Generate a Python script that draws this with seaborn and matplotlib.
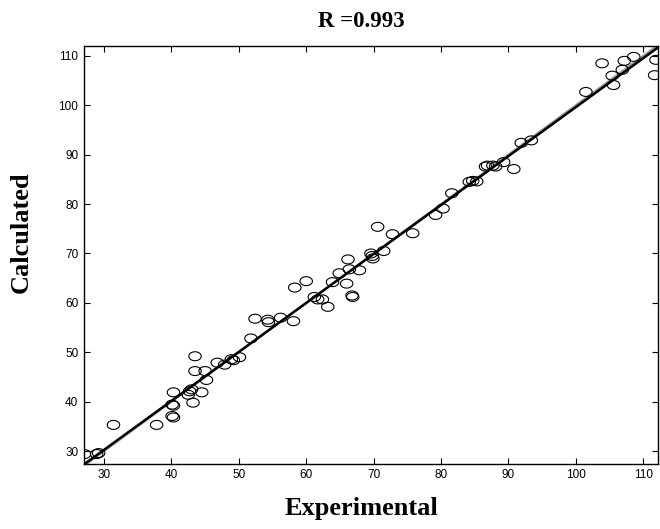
import numpy as np
import pandas as pd
import matplotlib
matplotlib.use("Agg")
import matplotlib.pyplot as plt
from matplotlib.path import Path
import seaborn as sns

experimental = [27.1, 28.9, 29.2, 31.4, 37.8, 40.1, 40.3, 40.3, 40.1, 40.3,
                43.2, 42.5, 42.7, 43.0, 44.5, 45.2, 43.5, 45.0, 43.5, 46.8,
                47.9, 48.9, 49.2, 50.1, 51.8, 52.4, 54.3, 54.4, 56.2, 58.1,
                58.3, 60.0, 61.2, 61.7, 62.4, 63.2, 63.9, 64.9, 66.2, 66.0,
                66.4, 66.8, 66.9, 67.9, 69.6, 69.8, 69.9, 71.5, 70.6, 72.8,
                75.8, 79.2, 80.3, 81.6, 84.2, 84.7, 85.3, 86.6, 86.9, 87.7,
                88.1, 89.3, 90.8, 91.9, 93.4, 101.5, 103.9, 105.4, 105.6, 106.9,
                107.2, 108.6, 111.7, 111.9]
calculated = [29.4, 29.4, 29.6, 35.3, 35.3, 37.1, 36.8, 39.2, 39.4, 41.9,
              39.8, 41.4, 42.1, 42.5, 41.9, 44.4, 46.2, 46.2, 49.2, 47.9,
              47.5, 48.6, 48.4, 49.0, 52.8, 56.8, 56.6, 56.1, 57.0, 56.3,
              63.1, 64.4, 61.2, 60.7, 60.7, 59.2, 64.2, 66.0, 68.8, 63.9,
              66.8, 61.5, 61.2, 66.6, 70.0, 69.5, 69.0, 70.5, 75.4, 73.9,
              74.1, 77.8, 79.1, 82.2, 84.5, 84.7, 84.6, 87.6, 87.8, 87.8,
              87.6, 88.5, 87.1, 92.4, 92.9, 102.7, 108.5, 106.0, 104.1, 107.2,
              109.0, 109.8, 106.1, 109.2]
x_ticks = [30, 40, 50, 60, 70, 80, 90, 100, 110]
y_ticks = [30, 40, 50, 60, 70, 80, 90, 100, 110]
r_value = "0.993"

df = pd.DataFrame({"Experimental": experimental, "Calculated": calculated})

sns.set_style("ticks")
plt.rcParams["font.family"] = ["Liberation Sans", "DejaVu Sans"]
plt.rcParams["text.color"] = "black"
plt.rcParams["axes.labelcolor"] = "black"
plt.rcParams["xtick.color"] = "black"
plt.rcParams["ytick.color"] = "black"

fig = plt.figure(figsize=(6.6, 5.29), dpi=100)
ax = fig.add_axes([0.127, 0.123, 0.870, 0.790])
ax.set_xlim(27.0, 112.2)
ax.set_ylim(27.4, 112.0)

# identity line (gray) and fitted line (black)
ax.axline((50, 50), slope=1, color="#9a9a9a", lw=1.6, zorder=2)
sns.regplot(data=df, x="Experimental", y="Calculated", scatter=False, ci=None,
            truncate=False, ax=ax, line_kws=dict(color="black", lw=1.8, zorder=3))

t = np.linspace(0, 2 * np.pi, 60)
ellipse = Path(np.column_stack([np.cos(t), 0.72 * np.sin(t)]))
sns.scatterplot(data=df, x="Experimental", y="Calculated", ax=ax, marker=ellipse,
                s=80, facecolor="none", edgecolor="black", linewidth=0.8, zorder=4)

ax.set_xticks(x_ticks)
ax.set_yticks(y_ticks)
ax.tick_params(direction="in", length=4, width=0.8, top=True, right=True,
               labelsize=8.5, colors="black", labelcolor="black", pad=4)
for s in ax.spines.values():
    s.set_visible(True)
    s.set_linewidth(1.0)
    s.set_color("black")

serif = ["Liberation Serif", "DejaVu Serif"]
ax.set_xlabel("Experimental", fontsize=19, fontweight="bold", family=serif, color="black")
ax.set_ylabel("Calculated", fontsize=19, fontweight="bold", family=serif, color="black")
ax.xaxis.set_label_coords(0.483, -0.079)
ax.yaxis.set_label_coords(-0.089, 0.555)
ax.set_title("R =" + r_value, fontsize=16.5, fontweight="bold", family=serif,
             color="black", x=0.483, y=1.0, pad=14)

fig.savefig("out.png", dpi=100)
